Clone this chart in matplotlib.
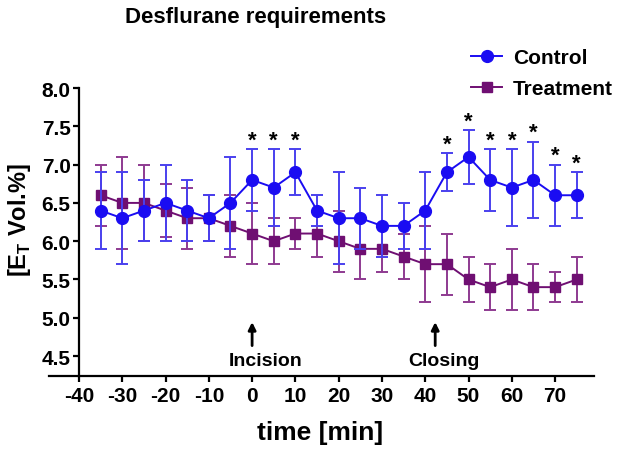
import matplotlib
matplotlib.use("Agg")
import matplotlib.pyplot as plt

plt.rcParams['font.family'] = ['Liberation Sans', 'DejaVu Sans']
plt.rcParams['font.weight'] = 'bold'
plt.rcParams['axes.labelweight'] = 'bold'
plt.rcParams['mathtext.fontset'] = 'custom'
plt.rcParams['mathtext.rm'] = 'Liberation Sans:bold'
plt.rcParams['mathtext.bf'] = 'Liberation Sans:bold'

# data (mean +/- SD)
time = [-35, -30, -25, -20, -15, -10, -5, 0, 5, 10, 15, 20, 25, 30, 35, 40, 45, 50, 55, 60, 65, 70, 75]
control_mean = [6.4, 6.3, 6.4, 6.5, 6.4, 6.3, 6.5, 6.8, 6.7, 6.9, 6.4, 6.3, 6.3, 6.2, 6.2, 6.4, 6.9, 7.1, 6.8, 6.7, 6.8, 6.6, 6.6]
control_sd = [0.5, 0.6, 0.4, 0.5, 0.4, 0.3, 0.6, 0.4, 0.5, 0.3, 0.2, 0.6, 0.4, 0.4, 0.3, 0.5, 0.25, 0.35, 0.4, 0.5, 0.5, 0.4, 0.3]
treat_mean = [6.6, 6.5, 6.5, 6.4, 6.3, 6.3, 6.2, 6.1, 6.0, 6.1, 6.1, 6.0, 5.9, 5.9, 5.8, 5.7, 5.7, 5.5, 5.4, 5.5, 5.4, 5.4, 5.5]
treat_sd = [0.4, 0.6, 0.5, 0.35, 0.4, 0.3, 0.4, 0.4, 0.3, 0.2, 0.3, 0.4, 0.4, 0.3, 0.3, 0.5, 0.4, 0.3, 0.3, 0.4, 0.3, 0.2, 0.3]
star_times = [0, 5, 10, 45, 50, 55, 60, 65, 70, 75]
# (arrow position, label, label centre)
events = [(0, 'Incision', 3.1), (42.3, 'Closing', 44.3)]

x_ticks = list(range(-40, 71, 10))
y_ticks = [4.5, 5.0, 5.5, 6.0, 6.5, 7.0, 7.5, 8.0]

blue = '#1a0cf2'
blue_err = '#4a40ee'
purple = '#6f0f72'
purple_err = '#8e3a90'

fig = plt.figure(figsize=(6.24, 4.52), dpi=100)
ax = fig.add_axes([0.078, 0.166, 0.874, 0.637])

# treatment first so control sits on top
ax.errorbar(time, treat_mean, yerr=treat_sd, fmt='none', ecolor=purple_err,
            elinewidth=1.4, capsize=4.6, capthick=1.4, zorder=2)
h_treat, = ax.plot(time, treat_mean, '-s', color=purple, lw=1.4, ms=7.5,
                   label='Treatment', zorder=3)
ax.errorbar(time, control_mean, yerr=control_sd, fmt='none', ecolor=blue_err,
            elinewidth=1.4, capsize=4.6, capthick=1.4, zorder=4)
h_ctrl, = ax.plot(time, control_mean, '-o', color=blue, lw=1.4, ms=8.5,
                  label='Control', zorder=5)

# significance stars above the control error bars
for t in star_times:
    i = time.index(t)
    ax.text(t, control_mean[i] + control_sd[i] + 0.05, '*', ha='center',
            va='baseline', fontsize=16, color='black')

# event arrows
for t, name, tx in events:
    ax.annotate('', xy=(t, 4.98), xytext=(t, 4.6),
                arrowprops=dict(arrowstyle='-|>', color='black', lw=2,
                                mutation_scale=11))
    ax.text(tx, 4.44, name, ha='center', va='center', fontsize=14)

ax.set_xlim(-47, 79)
ax.set_ylim(4.24, 8.0)
ax.set_xticks(x_ticks)
ax.set_xticklabels([str(v) for v in x_ticks])
ax.set_yticks(y_ticks)
ax.set_yticklabels(['%.1f' % v for v in y_ticks])
ax.spines['left'].set_position(('data', -40))
for s in ['top', 'right']:
    ax.spines[s].set_visible(False)
for s in ['left', 'bottom']:
    ax.spines[s].set_linewidth(1.6)
ax.tick_params(axis='both', direction='out', length=4.5, width=1.6, labelsize=15)
ax.tick_params(axis='x', pad=3)
ax.tick_params(axis='y', pad=1.5)

ax.set_xlabel('time [min]', fontsize=19, va='center')
ax.xaxis.set_label_coords(0.4975, -0.195)
ax.set_ylabel(r'[E$_\mathrm{T}$ Vol.%]', fontsize=17, va='center')
ax.yaxis.set_label_coords(-0.053, 0.545)

fig.text(0.409, 0.962, 'Desflurane requirements', ha='center', va='center', fontsize=16)

fig.legend(handles=[h_ctrl, h_treat], loc='upper left', bbox_to_anchor=(0.755, 0.892),
           frameon=False, fontsize=15, handlelength=1.5, handletextpad=0.5,
           labelspacing=0.6, borderpad=0, borderaxespad=0)

fig.savefig('out.png', dpi=100)
